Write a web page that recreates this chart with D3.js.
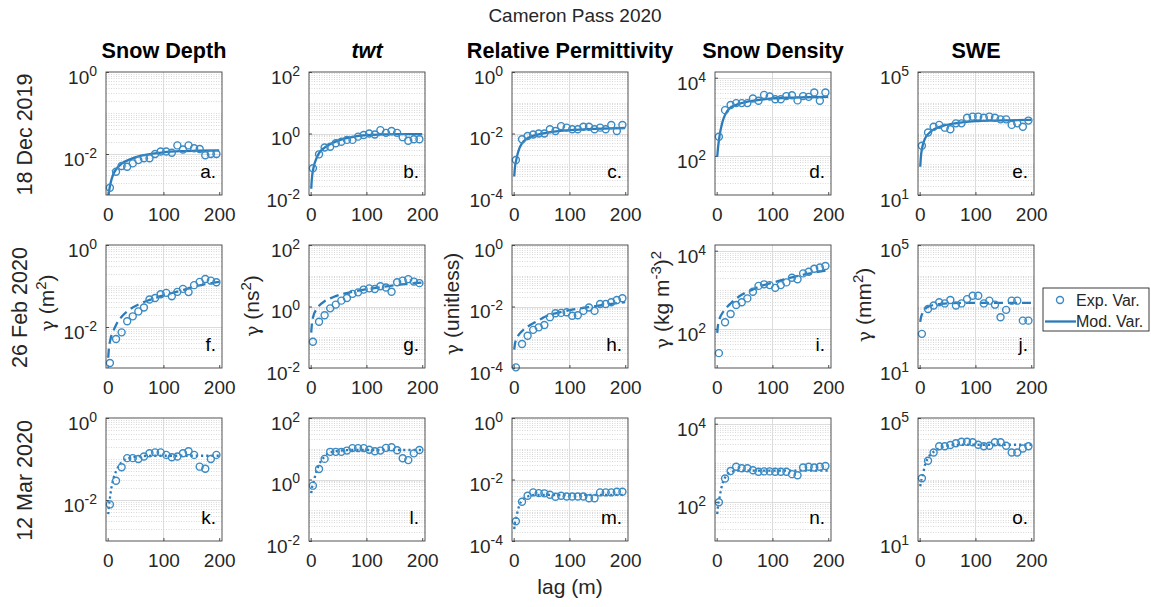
<!DOCTYPE html>
<html>
<head>
<meta charset="utf-8">
<script src="https://cdn.jsdelivr.net/npm/d3@7"></script>
<style>
  body { margin: 0; background: #fff; }
  svg { display: block; font-family: "Liberation Sans", Arial, Helvetica, sans-serif; }
</style>
</head>
<body>
<svg id="chart" width="1151" height="607"></svg>
<script>
// Cameron Pass 2020: experimental vs modelled semivariograms, 3 dates x 5 variables.
// Values read off the published figure (log-scaled y axes).

const FIG_TITLE = "Cameron Pass 2020";
const COL_TITLES = ["Snow Depth", "twt", "Relative Permittivity", "Snow Density", "SWE"];
const ROW_LABELS = ["18 Dec 2019", "26 Feb 2020", "12 Mar 2020"];
const Y_UNITS = ["γ (m^{2})", "γ (ns^{2})", "γ (unitless)", "γ (kg m^{-3})^{2}", "γ (mm^{2})"];
const PANEL_TAGS = [
  ["a.", "b.", "c.", "d.", "e."],
  ["f.", "g.", "h.", "i.", "j."],
  ["k.", "l.", "m.", "n.", "o."],
];
const X_LABEL = "lag (m)";
const X_TICKS = [0, 100, 200];
const Y_DOMAINS = [[1e-3, 1], [1e-2, 1e2], [1e-4, 1], [10, 1.4e4], [10, 1e5]];
const Y_TICKS = [[1e-2, 1], [1e-2, 1, 1e2], [1e-4, 1e-2, 1], [1e2, 1e4], [1e1, 1e5]];
const LEGEND_LABELS = ["Exp. Var.", "Mod. Var."];

// lag bins (m) of the experimental variograms, and the lags the fitted models are drawn at
const LAGS = [4, 15, 25, 35, 45, 55, 65, 75, 85, 95, 105, 115, 125, 135, 145, 155, 165, 175, 185, 195];
const MOD_LAGS = [1, 2, 5, 10, 15, 25, 40, 60, 80, 100, 130, 160, 200];

// 18 Dec 2019
const expA = [1.5e-3, 3.7e-3, 5.1e-3, 4.9e-3, 5.9e-3, 7.1e-3, 7.9e-3, 7.9e-3, 1.0e-2, 1.15e-2, 1.15e-2, 1.07e-2, 1.62e-2, 1.29e-2, 1.62e-2, 1.38e-2, 1.32e-2, 9.3e-3, 1.0e-2, 1.0e-2];
const modA = [8.9e-4, 1.12e-3, 1.9e-3, 3.2e-3, 4.2e-3, 5.8e-3, 7.4e-3, 9.1e-3, 1.02e-2, 1.1e-2, 1.17e-2, 1.2e-2, 1.23e-2];
const expB = [0.074, 0.21, 0.35, 0.37, 0.48, 0.54, 0.62, 0.62, 0.79, 0.89, 1.0, 0.93, 1.29, 1.05, 1.2, 1.05, 0.76, 0.58, 0.65, 0.65];
const modB = [0.016, 0.032, 0.076, 0.15, 0.23, 0.35, 0.5, 0.68, 0.81, 0.89, 0.93, 0.95, 0.95];
const expC = [1.38e-3, 6.5e-3, 8.3e-3, 9.3e-3, 1.0e-2, 1.0e-2, 1.38e-2, 1.2e-2, 1.74e-2, 1.55e-2, 1.38e-2, 1.38e-2, 1.66e-2, 1.66e-2, 1.38e-2, 1.55e-2, 1.38e-2, 1.9e-2, 1.2e-2, 1.9e-2];
const modC = [4.0e-4, 7.1e-4, 1.48e-3, 3.2e-3, 4.8e-3, 7.1e-3, 8.9e-3, 1.07e-2, 1.2e-2, 1.29e-2, 1.38e-2, 1.45e-2, 1.51e-2];
const expD = [310, 1480, 2000, 2240, 2240, 2240, 2950, 2570, 3630, 3310, 2820, 2820, 3390, 3550, 2630, 3390, 3240, 4170, 2570, 4170];
const modD = [95, 141, 316, 708, 1122, 1738, 2138, 2512, 2754, 2951, 3090, 3162, 3236];
const expE = [398, 1072, 1660, 1905, 1549, 1380, 2138, 2138, 3236, 3548, 3548, 3236, 3548, 3236, 2884, 2884, 1905, 2138, 1660, 2630];
const modE = [83, 158, 380, 708, 955, 1349, 1738, 2089, 2344, 2512, 2630, 2692, 2754];

// 26 Feb 2020
const expF = [1.32e-3, 5.1e-3, 7.4e-3, 1.38e-2, 1.82e-2, 2.4e-2, 3.0e-2, 4.7e-2, 5.1e-2, 6.3e-2, 6.8e-2, 5.6e-2, 7.2e-2, 8.5e-2, 7.1e-2, 0.105, 0.126, 0.148, 0.135, 0.123];
const modF = [1.78e-3, 2.8e-3, 5.0e-3, 7.9e-3, 1.12e-2, 1.78e-2, 2.7e-2, 3.8e-2, 4.8e-2, 5.9e-2, 7.6e-2, 0.1, 0.126];
const expG = [0.071, 0.32, 0.52, 0.87, 1.15, 1.55, 1.9, 2.57, 2.88, 3.55, 3.89, 3.72, 4.57, 4.17, 3.02, 6.17, 6.92, 7.76, 6.46, 5.75];
const modG = [0.141, 0.25, 0.5, 0.79, 1.05, 1.48, 2.0, 2.63, 3.16, 3.63, 4.37, 5.13, 6.03];
const expH = [1.05e-4, 6.0e-4, 1.12e-3, 1.74e-3, 2.1e-3, 2.5e-3, 4.5e-3, 6.0e-3, 6.2e-3, 6.5e-3, 5.0e-3, 5.2e-3, 7.2e-3, 9.3e-3, 7.2e-3, 1.2e-2, 1.2e-2, 1.38e-2, 1.62e-2, 1.86e-2];
const modH = [3.98e-4, 5.6e-4, 8.9e-4, 1.26e-3, 1.58e-3, 2.2e-3, 3.2e-3, 5.0e-3, 6.3e-3, 7.6e-3, 9.3e-3, 1.12e-2, 1.38e-2];
const expI = [24, 148, 240, 407, 479, 603, 891, 1259, 1380, 1318, 1122, 1318, 1549, 2042, 1862, 2630, 2884, 3467, 3715, 4074];
const modI = [79, 112, 178, 251, 316, 447, 676, 955, 1259, 1514, 1995, 2512, 3162];
const expJ = [129, 832, 1072, 1380, 1259, 1622, 1072, 1259, 1738, 2239, 2239, 1259, 1549, 1148, 447, 776, 1549, 1549, 347, 347];
const modJ = [316, 417, 603, 832, 977, 1122, 1230, 1288, 1318, 1318, 1318, 1318, 1318];

// 12 Mar 2020
const expK = [7.8e-3, 2.95e-2, 6.3e-2, 0.105, 0.105, 0.1, 0.115, 0.138, 0.145, 0.145, 0.126, 0.11, 0.115, 0.138, 0.155, 0.126, 0.065, 0.058, 0.1, 0.126];
const modK = [4.5e-3, 6.3e-3, 1.41e-2, 3.2e-2, 5.0e-2, 8.3e-2, 0.107, 0.117, 0.12, 0.12, 0.12, 0.12, 0.12];
const expL = [0.63, 2.19, 4.68, 7.94, 7.94, 7.94, 8.71, 10.5, 10.5, 10.5, 9.33, 8.32, 8.71, 10.7, 11.2, 8.91, 4.9, 4.27, 7.08, 9.12];
const modL = [0.36, 0.5, 0.79, 1.78, 3.02, 5.62, 7.94, 8.91, 9.12, 9.12, 9.12, 9.12, 9.12];
const expM = [4.4e-4, 1.9e-3, 2.95e-3, 3.8e-3, 3.6e-3, 3.55e-3, 3.2e-3, 2.75e-3, 2.95e-3, 2.8e-3, 2.8e-3, 2.8e-3, 2.8e-3, 2.45e-3, 2.45e-3, 3.8e-3, 3.8e-3, 3.8e-3, 4.0e-3, 4.0e-3];
const modM = [2.45e-4, 3.55e-4, 6.3e-4, 1.41e-3, 2.1e-3, 2.8e-3, 3.16e-3, 3.16e-3, 3.16e-3, 3.16e-3, 3.16e-3, 3.16e-3, 3.16e-3];
const expN = [98, 398, 617, 794, 724, 724, 646, 589, 603, 603, 589, 589, 589, 513, 479, 759, 794, 759, 794, 832];
const modN = [49, 71, 126, 282, 417, 575, 631, 631, 631, 631, 631, 631, 631];
const expO = [1096, 4074, 7586, 12023, 12023, 13183, 15136, 16982, 16982, 16218, 13490, 12023, 12589, 16218, 16218, 12589, 7586, 7586, 10233, 12023];
const modO = [603, 794, 1259, 3162, 5012, 7943, 11220, 13183, 13490, 13490, 13490, 13490, 13490];

const EXP = [[expA, expB, expC, expD, expE], [expF, expG, expH, expI, expJ], [expK, expL, expM, expN, expO]];
const MOD = [[modA, modB, modC, modD, modE], [modF, modG, modH, modI, modJ], [modK, modL, modM, modN, modO]];

(function () {
  const svg = d3.select("#chart");

  const INK = "#262626";
  const LINE_BLUE = "#2b7bba";
  const MARK_BLUE = "#3a8ac3";

  // panel frames (px)
  const PX = [106, 309, 512, 715, 918];
  const PY = [72, 245, 418];
  const PW = 116, PH = 123;
  const DASH = [null, "9,5", "2.2,3"]; // solid / dashed / dotted model per date

  // text with ^{...} superscripts and a TeX-like gamma
  function rich(text, str, supSize) {
    const parts = str.split(/(\^\{[^}]*\}|γ)/).filter((s) => s.length);
    let raised = false;
    parts.forEach((p) => {
      const t = text.append("tspan");
      if (p.startsWith("^{")) {
        t.text(p.slice(2, -1)).attr("font-size", supSize).attr("dy", raised ? 0 : -8);
        raised = true;
      } else {
        if (raised) t.attr("dy", 8);
        raised = false;
        if (p === "γ") t.attr("font-family", "'DejaVu Serif', serif").attr("font-size", "0.9em");
        t.text(p);
      }
    });
  }

  svg.append("text")
    .attr("x", 575).attr("y", 22)
    .attr("text-anchor", "middle")
    .attr("font-size", 19).attr("fill", INK)
    .text(FIG_TITLE);

  COL_TITLES.forEach((t, c) => {
    svg.append("text")
      .attr("x", PX[c] + PW / 2).attr("y", 57.5)
      .attr("text-anchor", "middle")
      .attr("font-size", 21.6).attr("font-weight", "bold")
      .attr("font-style", c === 1 ? "italic" : "normal")
      .attr("fill", "#000")
      .text(t);
  });

  // row (date) labels
  const ROW_LABEL_X = [32, 27, 32];
  ROW_LABELS.forEach((t, r) => {
    svg.append("text")
      .attr("transform", `translate(${ROW_LABEL_X[r]},${PY[r] + PH / 2 + 1}) rotate(-90)`)
      .attr("text-anchor", "middle")
      .attr("font-size", 21.5).attr("fill", INK)
      .text(t);
  });

  // gamma unit labels on the middle row
  const UNIT_X = [54, 259, 459, 669, 871];
  const UNIT_Y = [303, 306, 304, 300, 305];
  Y_UNITS.forEach((u, c) => {
    const t = svg.append("text")
      .attr("transform", `translate(${UNIT_X[c]},${UNIT_Y[c]}) rotate(-90)`)
      .attr("text-anchor", "middle")
      .attr("font-size", 21).attr("fill", INK);
    rich(t, u, 15);
  });

  svg.append("text")
    .attr("x", PX[2] + PW / 2).attr("y", 594)
    .attr("text-anchor", "middle")
    .attr("font-size", 21).attr("fill", INK)
    .text(X_LABEL);

  const x = d3.scaleLinear().domain([-3, 205]).range([0, PW]);

  for (let r = 0; r < 3; r++) {
    for (let c = 0; c < 5; c++) {
      const dom = Y_DOMAINS[c];
      const ticks = Y_TICKS[c];
      const y = d3.scaleLog().domain(dom).range([PH, 0]);
      const g = svg.append("g").attr("transform", `translate(${PX[c]},${PY[r]})`);
      const clipId = `clip-${r}-${c}`;
      g.append("clipPath").attr("id", clipId)
        .append("rect").attr("width", PW).attr("height", PH);

      g.append("rect").attr("width", PW).attr("height", PH).attr("fill", "#fff");

      // minor grid: every k*10^n that is not a labelled tick
      const isTick = (v) => ticks.some((t) => Math.abs(Math.log10(v) - Math.log10(t)) < 1e-6);
      const minor = [];
      for (let e = Math.floor(Math.log10(dom[0])); e <= Math.ceil(Math.log10(dom[1])); e++) {
        for (let k = 1; k <= 9; k++) {
          const v = k * Math.pow(10, e);
          if (v > dom[0] * 1.0001 && v < dom[1] * 0.9999 && !isTick(v)) minor.push(v);
        }
      }
      g.append("g").selectAll("line").data(minor).join("line")
        .attr("x1", 0).attr("x2", PW)
        .attr("y1", (d) => Math.round(y(d)) + 0.5).attr("y2", (d) => Math.round(y(d)) + 0.5)
        .attr("stroke", "#cfcfcf").attr("stroke-width", 0.8).attr("stroke-dasharray", "1,1.5");

      // major grid
      g.append("g").selectAll("line").data(ticks.filter((t) => t > dom[0] && t < dom[1])).join("line")
        .attr("x1", 0).attr("x2", PW)
        .attr("y1", (d) => Math.round(y(d)) + 0.5).attr("y2", (d) => Math.round(y(d)) + 0.5)
        .attr("stroke", "#dcdcdc").attr("stroke-width", 1);
      g.append("g").selectAll("line").data(X_TICKS.filter((t) => t > 0 && t < 200)).join("line")
        .attr("x1", (d) => Math.round(x(d)) + 0.5).attr("x2", (d) => Math.round(x(d)) + 0.5)
        .attr("y1", 0).attr("y2", PH)
        .attr("stroke", "#dcdcdc").attr("stroke-width", 1);

      // axes (ticks point inward, as MATLAB draws them)
      const gx = g.append("g").attr("transform", `translate(0,${PH})`)
        .call(d3.axisBottom(x).tickValues(X_TICKS).tickSizeInner(-3).tickSizeOuter(0).tickPadding(13));
      const gy = g.append("g")
        .call(d3.axisLeft(y).tickValues(ticks).tickSizeInner(-3).tickSizeOuter(0).tickPadding(9).tickFormat(""));
      [gx, gy].forEach((a) => {
        a.select(".domain").remove();
        a.selectAll(".tick line").attr("stroke", INK).attr("stroke-width", 0.8);
        a.selectAll("text").attr("fill", INK).attr("font-size", 19)
          .attr("font-family", "'Liberation Sans', Arial, sans-serif");
      });
      gy.selectAll(".tick text").each(function (d) {
        const t = d3.select(this).attr("dy", "0.6em");
        t.append("tspan").text("10");
        t.append("tspan").attr("dy", -8).attr("font-size", 14).text(String(Math.round(Math.log10(d))));
      });

      // fitted model
      const line = d3.line()
        .x((d) => x(d[0]))
        .y((d) => y(d[1]))
        .curve(d3.curveMonotoneX);
      g.append("path")
        .attr("clip-path", `url(#${clipId})`)
        .attr("d", line(d3.zip(MOD_LAGS, MOD[r][c])))
        .attr("fill", "none")
        .attr("stroke", LINE_BLUE)
        .attr("stroke-width", 2.3)
        .attr("stroke-dasharray", DASH[r]);

      // experimental variogram
      g.append("g").selectAll("circle").data(d3.zip(LAGS, EXP[r][c])).join("circle")
        .attr("cx", (d) => x(d[0])).attr("cy", (d) => y(d[1]))
        .attr("r", 3.5)
        .attr("fill", "none")
        .attr("stroke", MARK_BLUE)
        .attr("stroke-width", 1.4);

      // frame
      g.append("rect").attr("width", PW).attr("height", PH)
        .attr("fill", "none").attr("stroke", "#404040").attr("stroke-width", 0.9);

      g.append("text")
        .attr("x", PW - 6).attr("y", PH - 17)
        .attr("text-anchor", "end")
        .attr("font-size", 19).attr("fill", "#000")
        .text(PANEL_TAGS[r][c]);
    }
  }

  // legend
  const lg = svg.append("g").attr("transform", "translate(1043,288)");
  lg.append("rect").attr("width", 106).attr("height", 43)
    .attr("fill", "#fff").attr("stroke", INK).attr("stroke-width", 0.9);
  lg.append("circle").attr("cx", 17).attr("cy", 12).attr("r", 3.5)
    .attr("fill", "none").attr("stroke", MARK_BLUE).attr("stroke-width", 1.4);
  lg.append("line").attr("x1", 2).attr("x2", 33).attr("y1", 33.5).attr("y2", 33.5)
    .attr("stroke", LINE_BLUE).attr("stroke-width", 2.3);
  lg.selectAll("text.lab").data(LEGEND_LABELS).join("text")
    .attr("class", "lab")
    .attr("x", 33).attr("y", (d, i) => 18 + i * 21)
    .attr("font-size", 16).attr("fill", INK)
    .text((d) => d);
})();
</script>
</body>
</html>
